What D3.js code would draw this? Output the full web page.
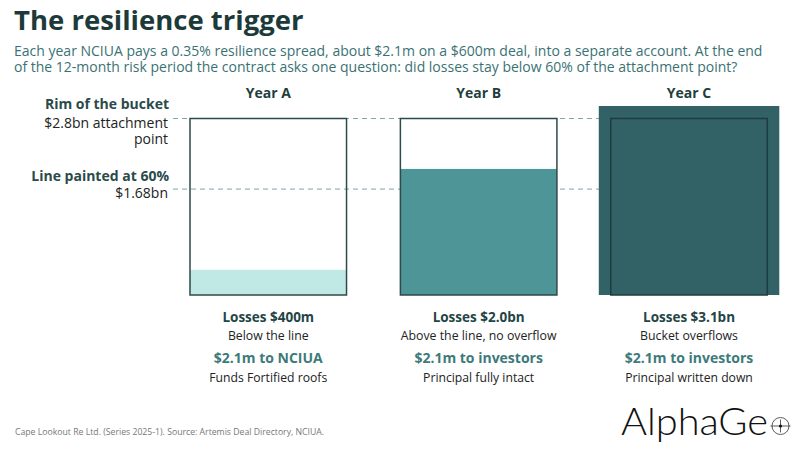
<!DOCTYPE html>
<html><head><meta charset="utf-8">
<script src="https://cdn.jsdelivr.net/npm/d3@7/dist/d3.min.js"></script>
<style>
html,body{margin:0;padding:0;background:#fff;}
svg{display:block;font-family:"Open Sans",sans-serif;}
</style></head>
<body>
<svg id="c" width="805" height="452"></svg>
<script>
// ---- data ----
const years = ["Year A", "Year B", "Year C"];
const losses = [0.4, 2.0, 3.1];               // $bn
const attachment = 2.8;                       // $bn, rim of the bucket
const trigger = 1.68;                         // $bn, 60% line
const lossLabels = ["Losses $400m", "Losses $2.0bn", "Losses $3.1bn"];
const outcomeLabels = ["Below the line", "Above the line, no overflow", "Bucket overflows"];
const payLabels = ["$2.1m to NCIUA", "$2.1m to investors", "$2.1m to investors"];
const effectLabels = ["Funds Fortified roofs", "Principal fully intact", "Principal written down"];
const fills = ["#c0e8e5", "#4e9598", "#326266"];

const svg = d3.select("#c");

// ---- scales ----
const x = d3.scaleBand().domain(years).range([190, 767.3]).paddingInner(0.256);
const y = d3.scaleLinear().domain([0, attachment]).range([295, 118.5]);

// ---- header ----
svg.append("text").attr("x", 14).attr("y", 29.5)
  .attr("font-size", 27.5).attr("font-weight", 700).attr("fill", "#1d3a3a")
  .text("The resilience trigger");
const sub = [
  "Each year NCIUA pays a 0.35% resilience spread, about $2.1m on a $600m deal, into a separate account. At the end",
  "of the 12-month risk period the contract asks one question: did losses stay below 60% of the attachment point?"
];
svg.selectAll("text.sub").data(sub).join("text").attr("class", "sub")
  .attr("x", 14).attr("y", (d, i) => 56 + i * 16)
  .attr("font-size", 14).attr("fill", "#3a7274").text(d => d);

// ---- reference lines ----
const lineX0 = 173, lineX1 = x("Year C") + x.bandwidth();
[attachment, trigger].forEach(v => {
  svg.append("line").attr("x1", lineX0).attr("x2", lineX1)
    .attr("y1", y(v)).attr("y2", y(v))
    .attr("stroke", "#7aa8ab").attr("stroke-width", 1).attr("stroke-dasharray", "5,4");
});

// ---- left labels ----
const lab = svg.append("g").attr("text-anchor", "end").attr("font-size", 14);
lab.append("text").attr("x", 169).attr("y", y(attachment) - 9.5).attr("font-weight", 700).attr("fill", "#2b4a4a").text("Rim of the bucket");
lab.append("text").attr("x", 168).attr("y", y(attachment) + 9.5).attr("fill", "#222").text("$2.8bn attachment");
lab.append("text").attr("x", 168).attr("y", y(attachment) + 25.8).attr("fill", "#222").text("point");
lab.append("text").attr("x", 169).attr("y", y(trigger) - 8).attr("font-weight", 700).attr("fill", "#2b4a4a").text("Line painted at 60%");
lab.append("text").attr("x", 168).attr("y", y(trigger) + 9).attr("fill", "#222").text("$1.68bn");

// ---- buckets ----
const pad = 12;
years.forEach((yr, i) => {
  const g = svg.append("g");
  const x0 = x(yr), w = x.bandwidth();
  const loss = losses[i];
  if (loss > attachment) {
    // overflow spilling out of the bucket
    g.append("rect").attr("x", x0 - pad).attr("y", y(attachment) - pad - 0.5)
      .attr("width", w + 2 * pad).attr("height", y(0) - y(attachment) + pad + 0.5)
      .attr("fill", fills[i]);
    g.append("rect").attr("x", x0).attr("y", y(attachment))
      .attr("width", w).attr("height", y(0) - y(attachment))
      .attr("fill", fills[i]).attr("stroke", "#1f3c3e").attr("stroke-width", 1.5);
  } else {
    g.append("rect").attr("x", x0).attr("y", y(loss))
      .attr("width", w).attr("height", y(0) - y(loss)).attr("fill", fills[i]);
    g.append("rect").attr("x", x0).attr("y", y(attachment))
      .attr("width", w).attr("height", y(0) - y(attachment))
      .attr("fill", "none").attr("stroke", "#2d4a4b").attr("stroke-width", 1.5);
  }
  const cx = x0 + w / 2;
  g.append("text").attr("x", cx).attr("y", 98).attr("text-anchor", "middle")
    .attr("font-size", 14).attr("font-weight", 700).attr("fill", "#1f3f3f").text(yr);
  g.append("text").attr("x", cx).attr("y", 322).attr("text-anchor", "middle")
    .attr("font-size", 13.5).attr("font-weight", 700).attr("fill", "#1f4545").text(lossLabels[i]);
  g.append("text").attr("x", cx).attr("y", 340).attr("text-anchor", "middle")
    .attr("font-size", 12.3).attr("fill", "#222").text(outcomeLabels[i]);
  g.append("text").attr("x", cx).attr("y", 363).attr("text-anchor", "middle")
    .attr("font-size", 14).attr("font-weight", 700).attr("fill", "#3d7a7a").text(payLabels[i]);
  g.append("text").attr("x", cx).attr("y", 382).attr("text-anchor", "middle")
    .attr("font-size", 12.2).attr("fill", "#222").text(effectLabels[i]);
});

// ---- footer ----
svg.append("text").attr("x", 15).attr("y", 435).attr("font-size", 8.7).attr("fill", "#777")
  .text("Cape Lookout Re Ltd. (Series 2025-1). Source: Artemis Deal Directory, NCIUA.");

// ---- logo ----
const logo = svg.append("g");
logo.append("text").attr("x", 621).attr("y", 435).attr("font-family", "Lato, sans-serif")
  .attr("font-size", 37).attr("font-weight", 300).attr("fill", "#111")
  .attr("textLength", 147).attr("lengthAdjust", "spacingAndGlyphs").text("AlphaGe");
const lc = {x: 780.5, y: 426, r: 8.5};
logo.append("circle").attr("cx", lc.x).attr("cy", lc.y).attr("r", lc.r)
  .attr("fill", "none").attr("stroke", "#333").attr("stroke-width", 0.8);
logo.append("line").attr("x1", lc.x - lc.r - 1.5).attr("x2", lc.x + lc.r + 1.5).attr("y1", lc.y).attr("y2", lc.y)
  .attr("stroke", "#333").attr("stroke-width", 0.8);
logo.append("line").attr("x1", lc.x).attr("x2", lc.x).attr("y1", lc.y - lc.r + 2).attr("y2", lc.y + lc.r - 2)
  .attr("stroke", "#333").attr("stroke-width", 0.8);
logo.append("circle").attr("cx", lc.x).attr("cy", lc.y).attr("r", 1.6).attr("fill", "#111");
</script>
</body></html>
